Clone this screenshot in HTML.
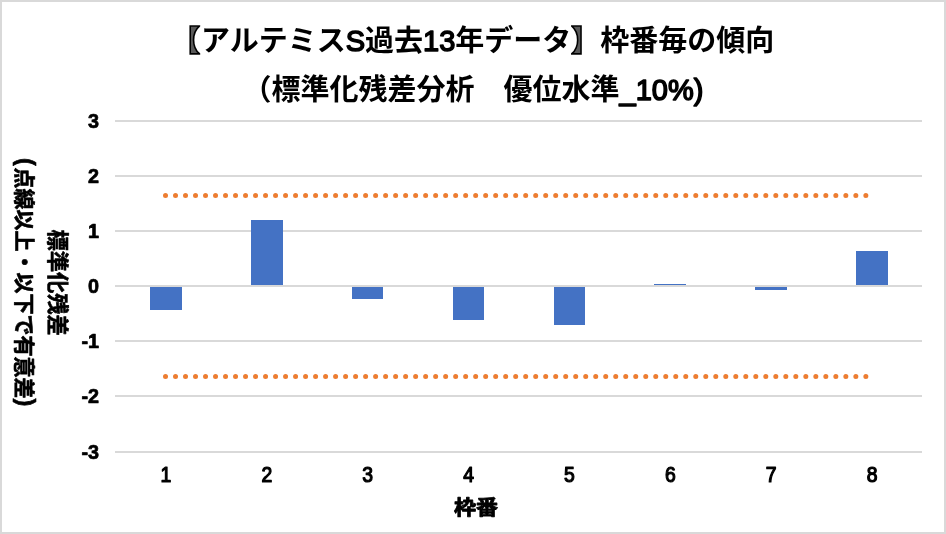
<!DOCTYPE html>
<html lang="ja"><head><meta charset="utf-8"><title>枠番毎の傾向</title>
<style>
html,body{margin:0;padding:0;background:#fff;}
body{width:946px;height:534px;overflow:hidden;}
svg{display:block;}
.t{font-family:"Liberation Sans","Noto Sans CJK JP",sans-serif;font-weight:700;fill:#000;}
.title{font-size:29px;}
.brk{font-size:29.5px;fill:#595959;stroke:#000;stroke-width:1.6px;stroke-linejoin:miter;}
.lat{font-weight:400;stroke:#000;stroke-width:1.5px;stroke-linejoin:round;}
.ax{font-size:21px;font-weight:700;stroke:#000;stroke-width:0.6px;stroke-linejoin:round;}
.yt{font-size:19.8px;text-anchor:end;stroke:#000;stroke-width:0.7px;stroke-linejoin:round;}
.xt{font-size:21.5px;text-anchor:middle;font-weight:400;stroke:#000;stroke-width:1.25px;stroke-linejoin:round;}
</style></head><body>
<svg width="946" height="534" viewBox="0 0 946 534">
<rect x="0" y="0" width="946" height="534" fill="#fff"/>
<rect x="1" y="1" width="944" height="532" fill="none" stroke="#d9d9d9" stroke-width="2" shape-rendering="crispEdges"/>
<rect x="115" y="120" width="807" height="2" fill="#d9d9d9" shape-rendering="crispEdges"/>
<rect x="115" y="175" width="807" height="2" fill="#d9d9d9" shape-rendering="crispEdges"/>
<rect x="115" y="230" width="807" height="2" fill="#d9d9d9" shape-rendering="crispEdges"/>
<rect x="115" y="340" width="807" height="2" fill="#d9d9d9" shape-rendering="crispEdges"/>
<rect x="115" y="395" width="807" height="2" fill="#d9d9d9" shape-rendering="crispEdges"/>
<rect x="115" y="451" width="807" height="2" fill="#d9d9d9" shape-rendering="crispEdges"/>
<rect x="150" y="287" width="32" height="23" fill="#4472c4" shape-rendering="crispEdges"/>
<rect x="251" y="220" width="32" height="65" fill="#4472c4" shape-rendering="crispEdges"/>
<rect x="352" y="287" width="31" height="12" fill="#4472c4" shape-rendering="crispEdges"/>
<rect x="453" y="287" width="31" height="33" fill="#4472c4" shape-rendering="crispEdges"/>
<rect x="554" y="287" width="31" height="38" fill="#4472c4" shape-rendering="crispEdges"/>
<rect x="654" y="284" width="32" height="1" fill="#4472c4" shape-rendering="crispEdges"/>
<rect x="755" y="287" width="32" height="3" fill="#4472c4" shape-rendering="crispEdges"/>
<rect x="856" y="251" width="32" height="34" fill="#4472c4" shape-rendering="crispEdges"/>
<rect x="115" y="285" width="807" height="2" fill="#d9d9d9" shape-rendering="crispEdges"/>
<line x1="165.5" x2="867" y1="195.6" y2="195.6" stroke="#ed7d31" stroke-width="5" stroke-linecap="round" stroke-dasharray="0.01 9.995"/>
<line x1="165.5" x2="867" y1="376.5" y2="376.5" stroke="#ed7d31" stroke-width="5" stroke-linecap="round" stroke-dasharray="0.01 9.995"/>
<text class="t yt" x="99.1" y="127.6">3</text>
<text class="t yt" x="99.1" y="182.6">2</text>
<text class="t yt" x="99.1" y="237.6">1</text>
<text class="t yt" x="99.1" y="292.6">0</text>
<text class="t yt" x="99.1" y="347.6">-1</text>
<text class="t yt" x="99.1" y="402.6">-2</text>
<text class="t yt" x="99.1" y="458.6">-3</text>
<text class="t xt" transform="translate(165.9,482.0) scale(0.9,1)">1</text>
<text class="t xt" transform="translate(266.8,482.0) scale(0.9,1)">2</text>
<text class="t xt" transform="translate(367.7,482.0) scale(0.9,1)">3</text>
<text class="t xt" transform="translate(468.6,482.0) scale(0.9,1)">4</text>
<text class="t xt" transform="translate(569.4,482.0) scale(0.9,1)">5</text>
<text class="t xt" transform="translate(670.3,482.0) scale(0.9,1)">6</text>
<text class="t xt" transform="translate(771.2,482.0) scale(0.9,1)">7</text>
<text class="t xt" transform="translate(872.1,482.0) scale(0.9,1)">8</text>
<text class="t title brk" x="170.7" y="51.1">【</text>
<text class="t title" x="201" y="51">アルテミス<tspan class="lat">S</tspan>過去<tspan class="lat">13</tspan>年データ</text>
<text class="t title brk" x="570.9" y="51.1">】</text>
<text class="t title" x="600.3" y="51">枠番毎の傾向</text>
<text class="t title" x="242.5" y="100">（標準化残差分析　優位水準<tspan class="lat">_10%)</tspan></text>
<text class="t ax" style="font-size:20.5px;stroke-width:0.9px" transform="translate(453.9,514.7) scale(1.075,1)">枠番</text>
<text class="t ax" style="font-size:21.25px" text-anchor="middle" transform="translate(50,282.5) rotate(90)">標準化残差</text>
<text class="t ax" style="font-size:21px" text-anchor="middle" transform="translate(16.8,283) rotate(90)">点線以上・以下で有意差</text>
<text class="t ax" style="font-size:23.5px;font-weight:700" transform="translate(17.8,158) rotate(90)">(</text>
<text class="t ax" style="font-size:23.5px;font-weight:700" transform="translate(17.8,398.6) rotate(90)">)</text>
</svg></body></html>
